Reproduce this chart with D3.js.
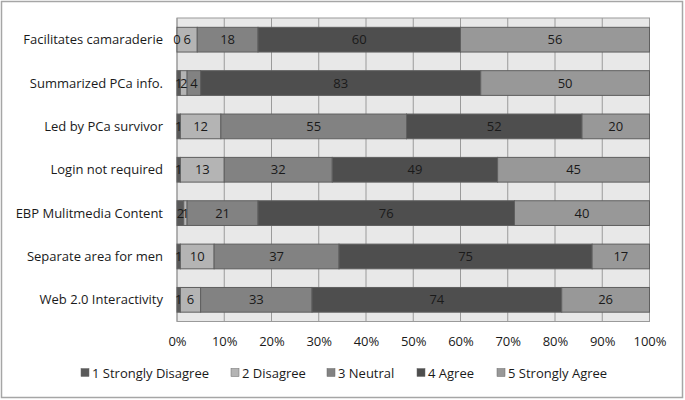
<!DOCTYPE html>
<html><head><meta charset="utf-8">
<script src="https://cdn.jsdelivr.net/npm/d3@7"></script>
<style>body{margin:0;background:#fff}svg{display:block}text{font-family:"Open Sans","Noto Sans",sans-serif;fill:#1a1a1a}</style>
</head><body><svg id="c" width="685" height="400"></svg>
<script>
const categories = ["Facilitates camaraderie","Summarized PCa info.","Led by PCa survivor","Login not required","EBP Mulitmedia Content","Separate area for men","Web 2.0 Interactivity"];
const seriesNames = ["1 Strongly Disagree","2 Disagree","3 Neutral","4 Agree","5 Strongly Agree"];
const stronglyDisagree = [0,1,1,1,2,1,1];
const disagree = [6,2,12,13,1,10,6];
const neutral = [18,4,55,32,21,37,33];
const agree = [60,83,52,49,76,75,74];
const stronglyAgree = [56,50,20,45,40,17,26];
const tickLabels = ["0%","10%","20%","30%","40%","50%","60%","70%","80%","90%","100%"];
const colors = ["#5a5a5a","#b4b4b4","#828282","#4e4e4e","#989898"];

const series = [stronglyDisagree, disagree, neutral, agree, stronglyAgree];
const rows = categories.map((c,i)=>{const o={cat:c};seriesNames.forEach((s,j)=>o[s]=series[j][i]);return o;});
const totals = categories.map((c,i)=>series.reduce((a,s)=>a+s[i],0));
const norm = rows.map((r,i)=>{const o={cat:r.cat};seriesNames.forEach(s=>o[s]=r[s]/totals[i]);return o;});
const stacked = d3.stack().keys(seriesNames)(norm);

const svg = d3.select("#c");
svg.append("rect").attr("x",1.5).attr("y",1.5).attr("width",681).attr("height",396).attr("fill","#fff").attr("stroke","#a6a6a6").attr("stroke-width",1.5);

const L=177,R=649.5,T=18,B=321.5;
const x = d3.scaleLinear().domain([0,1]).range([L,R]);
const y = d3.scaleBand().domain(categories).range([T,B]).paddingInner(0.43).paddingOuter(0.215);

svg.append("rect").attr("x",L).attr("y",T).attr("width",R-L).attr("height",B-T).attr("fill","#e8e8e8");
const ticks = d3.range(0,1.0001,0.1);
svg.append("g").selectAll("line").data(ticks).join("line")
  .attr("x1",d=>x(d)).attr("x2",d=>x(d)).attr("y1",T).attr("y2",B)
  .attr("stroke","#9a9a9a").attr("stroke-width",1);
svg.append("rect").attr("x",L).attr("y",T).attr("width",R-L).attr("height",B-T).attr("fill","none").attr("stroke","#9a9a9a");

const g = svg.append("g");
stacked.forEach((s,j)=>{
  g.append("g").selectAll("rect").data(s).join("rect")
   .attr("x",d=>x(d[0])).attr("width",d=>x(d[1])-x(d[0]))
   .attr("y",d=>y(d.data.cat)).attr("height",y.bandwidth())
   .attr("fill",colors[j]).attr("stroke","#5f5f5f").attr("stroke-width",1);
});
stacked.forEach((s,j)=>{
  g.append("g").selectAll("text").data(s).join("text")
   .attr("x",d=>(x(d[0])+x(d[1]))/2).attr("y",d=>y(d.data.cat)+y.bandwidth()/2)
   .attr("dy","0.35em").attr("text-anchor","middle").attr("font-size",13)
   .text((d,i)=>series[j][i]);
});

// y labels
svg.append("g").selectAll("text").data(categories).join("text")
  .attr("x",163).attr("y",d=>y(d)+y.bandwidth()/2).attr("dy","0.35em")
  .attr("text-anchor","end").attr("font-size",13).text(d=>d);

// x axis
const xAxis = d3.axisBottom(x).tickValues(ticks).tickFormat((d,i)=>tickLabels[i]).tickSize(0).tickPadding(15);
const ax = svg.append("g").attr("transform",`translate(0,${B})`).call(xAxis);
ax.select(".domain").remove();
ax.selectAll("text").attr("font-size",13).style("font-family",'"Open Sans","Noto Sans",sans-serif').attr("fill","#1a1a1a");

// legend
const legX = [81,231,327,417,497];
const leg = svg.append("g");
seriesNames.forEach((s,j)=>{
  leg.append("rect").attr("x",legX[j]).attr("y",368.5).attr("width",8).attr("height",8).attr("fill",colors[j]).attr("stroke","#6a6a6a").attr("stroke-width",0.5);
  leg.append("text").attr("x",legX[j]+11).attr("y",373).attr("dy","0.35em").attr("font-size",13).text(s);
});
</script></body></html>
